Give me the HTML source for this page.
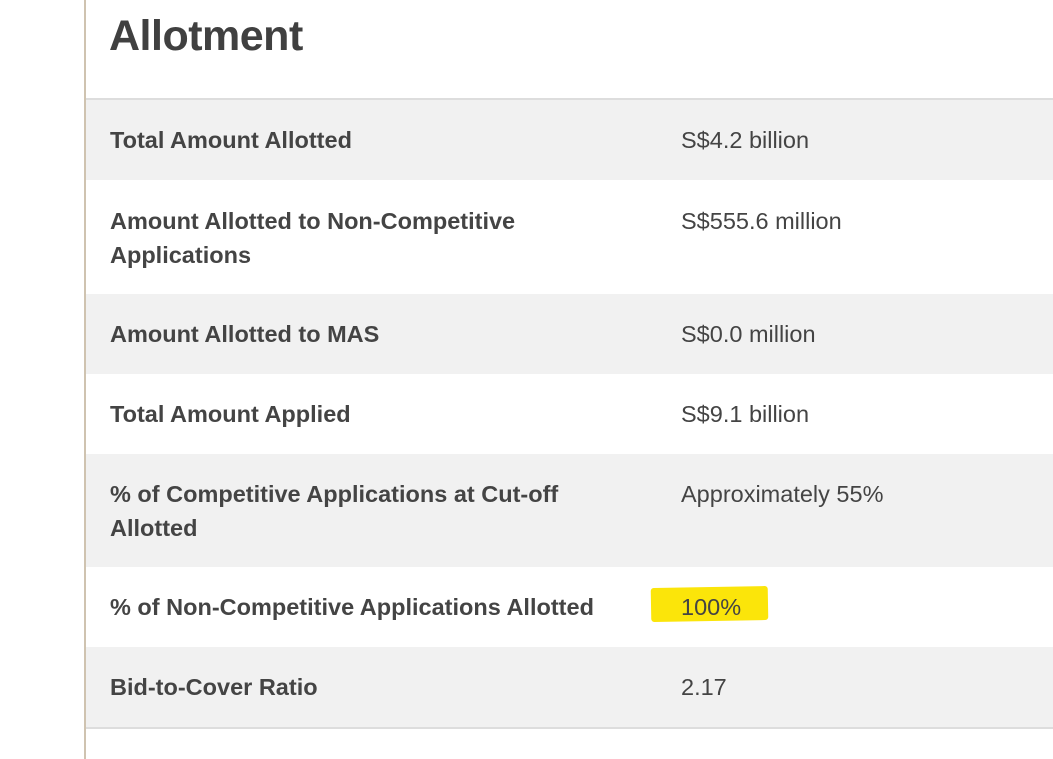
<!DOCTYPE html>
<html><head><meta charset="utf-8"><style>
body{margin:0;width:1053px;height:759px;background:#fff;position:relative;overflow:hidden;font-family:"Liberation Sans",sans-serif;color:#444}
#vline{position:absolute;left:84px;top:0;width:2px;height:759px;background:#cfc3b0}
h1{position:absolute;left:109px;top:12px;margin:0;font-size:43px;font-weight:bold;color:#404040;letter-spacing:-0.5px}
#topline{position:absolute;left:86px;right:0;top:98px;height:2px;background:#ddd}
.row{position:absolute;left:86px;right:0}
.g{background:#f1f1f1}
.lab{position:absolute;left:24px;font-weight:bold;font-size:23.5px;line-height:34px;color:#444;width:500px}
.val{position:absolute;left:595px;font-size:23.5px;line-height:34px;color:#444}
#bot{position:absolute;left:86px;right:0;top:727px;height:2px;background:#ddd}
#hl{position:absolute;left:651px;top:587px;width:117px;height:34px;background:#fbe50a;border-radius:3px;transform:rotate(-1deg)}
</style></head><body>
<div id="vline"></div>
<h1>Allotment</h1>
<div id="topline"></div>
<div class="row g" style="top:100px;height:80px"><div class="lab" style="top:23px">Total Amount Allotted</div><div class="val" style="top:23px">S$4.2 billion</div></div>
<div class="row" style="top:180px;height:114px"><div class="lab" style="top:24px">Amount Allotted to Non-Competitive Applications</div><div class="val" style="top:24px">S$555.6 million</div></div>
<div class="row g" style="top:294px;height:80px"><div class="lab" style="top:23px">Amount Allotted to MAS</div><div class="val" style="top:23px">S$0.0 million</div></div>
<div class="row" style="top:374px;height:80px"><div class="lab" style="top:23px">Total Amount Applied</div><div class="val" style="top:23px">S$9.1 billion</div></div>
<div class="row g" style="top:454px;height:113px"><div class="lab" style="top:23px">% of Competitive Applications at Cut-off Allotted</div><div class="val" style="top:23px">Approximately 55%</div></div>
<div id="hl"></div>
<div class="row" style="top:567px;height:80px;background:transparent"><div class="lab" style="top:23px">% of Non-Competitive Applications Allotted</div><div class="val" style="top:23px">100%</div></div>
<div class="row g" style="top:647px;height:80px"><div class="lab" style="top:23px">Bid-to-Cover Ratio</div><div class="val" style="top:23px">2.17</div></div>
<div id="bot"></div>
</body></html>
